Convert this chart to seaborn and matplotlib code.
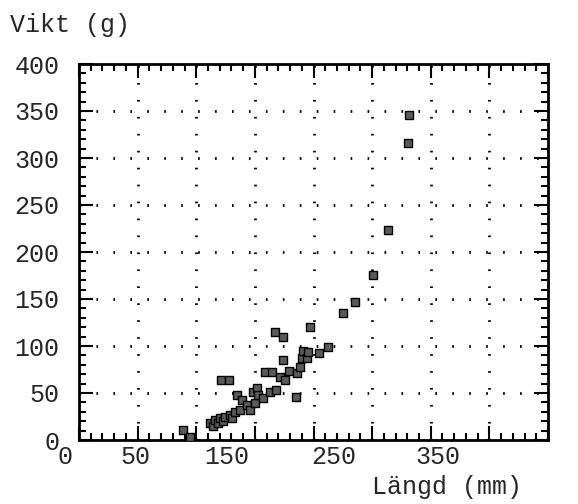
import matplotlib
matplotlib.use("Agg")
import matplotlib.pyplot as plt
from matplotlib.ticker import MultipleLocator
import matplotlib.transforms as mtransforms
import seaborn as sns
import pandas as pd

# Data (length mm, weight g)
length_mm = [88.7, 94.7, 111.7, 114.3, 116.0, 118.6, 120.3, 122.8, 124.5, 128.8,
             130.5, 133.0, 137.3, 121.1, 127.9, 134.8, 139.0, 143.3, 145.8, 150.1,
             148.4, 151.8, 152.7, 156.9, 158.6, 164.6, 162.9, 168.0, 171.4, 175.7,
             179.1, 174.0, 185.1, 185.9, 188.5, 190.2, 191.0, 194.5, 195.3, 167.2,
             174.0, 197.0, 204.7, 212.4, 225.2, 235.4, 250.7, 263.5, 280.6, 281.4]
weight_g = [10.6, 3.2, 18.1, 14.9, 21.3, 18.1, 23.4, 20.2, 24.5, 26.6,
            23.4, 29.8, 31.9, 63.8, 63.8, 47.9, 42.6, 37.2, 31.9, 39.4,
            51.1, 55.3, 47.9, 44.7, 72.3, 72.3, 51.1, 53.2, 67.0, 63.8,
            73.4, 85.1, 45.7, 71.3, 77.7, 87.2, 94.7, 87.2, 93.6, 114.9,
            109.6, 120.2, 92.6, 98.9, 135.1, 146.8, 175.5, 223.4, 316.0, 345.7]

x_label_pos = [-12, 48, 126, 217, 306]
x_label_txt = ["0", "50", "150", "250", "350"]
y_ticks = [0, 50, 100, 150, 200, 250, 300, 350, 400]

df = pd.DataFrame({"Längd": length_mm, "Vikt": weight_g})

sns.set_style("white")
plt.rcParams["font.family"] = ["Liberation Mono", "DejaVu Sans Mono"]
FS = 18

fig = plt.figure(figsize=(5.78, 5.04), dpi=100)
ax = fig.add_axes([79/578, 64/504, 469/578, 376/504])

sns.scatterplot(data=df, x="Längd", y="Vikt", ax=ax, marker="s", s=38,
                color="#5a5a5a", edgecolor="black", linewidth=1.0, zorder=3)

ax.set_xlim(0, 400)
ax.set_ylim(0, 400)
ax.xaxis.set_major_locator(MultipleLocator(50))
ax.xaxis.set_minor_locator(MultipleLocator(10))
ax.set_yticks(y_ticks)
ax.yaxis.set_minor_locator(MultipleLocator(10))
ax.set_yticklabels([str(v) for v in y_ticks])

for sp in ax.spines.values():
    sp.set_visible(True)
    sp.set_color("black")
    sp.set_linewidth(2)

ax.tick_params(which="both", direction="in", top=True, right=True,
               bottom=True, left=True, color="black", width=1.5)
ax.tick_params(which="major", length=10)
ax.tick_params(which="minor", length=5)
ax.tick_params(axis="x", labelbottom=False)
ax.tick_params(axis="y", labelsize=FS, pad=14)

ax.grid(True, which="major", color="black", linestyle=(0, (0.6, 5.5)),
        linewidth=2)
ax.set_xlabel("")
ax.set_ylabel("")

# x tick labels (placed where the reference prints them)
trans = mtransforms.blended_transform_factory(ax.transData, ax.transAxes)
for pos, txt in zip(x_label_pos, x_label_txt):
    ax.text(pos, -0.012, txt, transform=trans, ha="center", va="top",
            fontsize=FS, clip_on=False)

fig.text(10/578, 1 - 32/504, "Vikt (g)", fontsize=FS, ha="left", va="baseline")
fig.text(522/578, 1 - 494/504, "Längd (mm)", fontsize=FS, ha="right", va="baseline")

fig.savefig("out.png", dpi=100)
